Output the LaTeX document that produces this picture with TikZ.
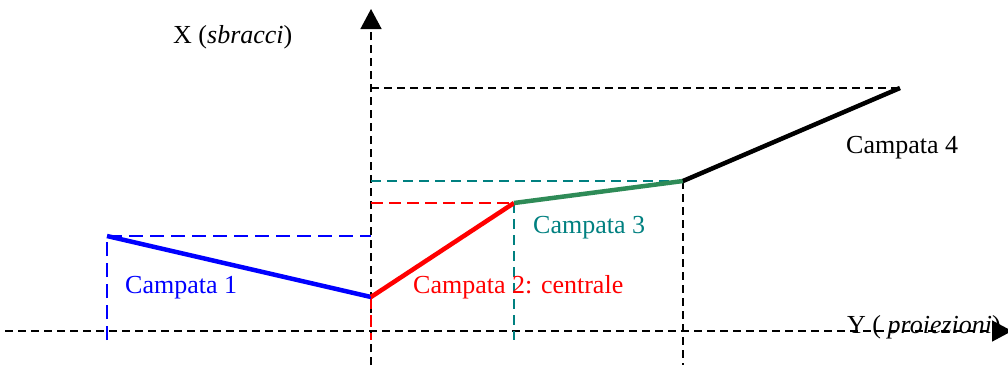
\documentclass[tikz,border=0pt]{standalone}
\usepackage{fontspec}
\setmainfont{Liberation Serif}
\usetikzlibrary{arrows.meta}
\definecolor{segblue}{RGB}{0,0,255}
\definecolor{segred}{RGB}{255,0,0}
\definecolor{seggreen}{RGB}{46,139,87}
\definecolor{segteal}{RGB}{0,128,128}
\begin{document}
\begin{tikzpicture}[x=1pt,y=-1pt,
  axisline/.style={draw=black,line width=1.5pt,dash pattern=on 8pt off 5pt},
  guide/.style={line width=1.5pt,dash pattern=on 12pt off 6pt},
  seg/.style={line width=4.5pt,line cap=butt},
  lab/.style={anchor=base west,inner sep=0pt,font=\fontsize{26}{30}\selectfont}]
\useasboundingbox (0,0) rectangle (1008,365);
% axes
\coordinate (xs) at (5,331);
\coordinate (xe) at (1012,331);
\coordinate (ys) at (371,365);
\coordinate (ye) at (371,9);
\draw[axisline,-{Triangle[width=21pt,length=20pt]}] (xs) -- (xe);
\draw[axisline,-{Triangle[width=21pt,length=20pt]}] (ys) -- (ye);
% points
\coordinate (A) at (107,236);
\coordinate (B) at (371,297);
\coordinate (C) at (514,203);
\coordinate (D) at (683,181);
\coordinate (E) at (900,88);
\coordinate (Ay) at (371,236);
\coordinate (Ad) at (107,340);
\coordinate (Bd) at (371,340);
\coordinate (Cy) at (371,203);
\coordinate (Cd) at (514,340);
\coordinate (Dy) at (371,181);
\coordinate (Dd) at (683,365);
\coordinate (Ey) at (371,88);
% guides
\draw[guide,segblue,dash pattern=on 14pt off 7pt] (Ad) -- (A) -- (Ay);
\draw[guide,segred] (Cy) -- (C);
\draw[guide,segred] (B) -- (Bd);
\draw[guide,segteal,dash pattern=on 10pt off 6pt] (Dy) -- (D);
\draw[guide,segteal,dash pattern=on 10pt off 6pt] (C) -- (Cd);
\draw[axisline] (Ey) -- (E);
\draw[axisline] (D) -- (Dd);
% segments
\draw[seg,segblue] (A) -- (B);
\draw[seg,segred] (B) -- (C);
\draw[seg,seggreen] (C) -- (D);
\draw[seg,black] (D) -- (E);
% labels
\node[lab,segblue] (l1) at (125,293) {Campata 1};
\node[lab,segred] (l2) at (413,293) {Campata 2: centrale};
\node[lab,segteal] (l3) at (533,233) {Campata 3};
\node[lab] (l4) at (846,153) {Campata 4};
\node[lab] (lx) at (173,43) {X (\textit{sbracci})};
\node[lab] (ly) at (847,333) {Y ( \textit{proiezioni})};
\end{tikzpicture}
\end{document}
